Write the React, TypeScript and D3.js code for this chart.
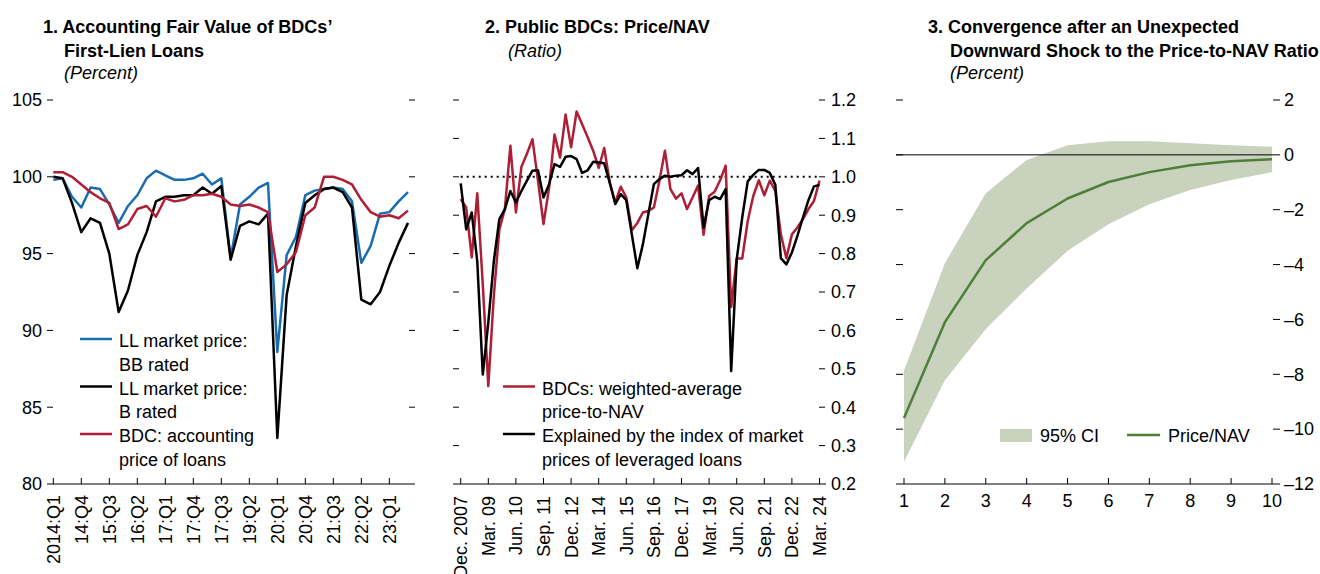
import React from 'react';
import * as d3 from 'd3';

const FONT = "'Liberation Sans Narrow','Arial Narrow','Liberation Sans',Arial,sans-serif";
const BLUE = '#1a6cb0';
const RED = '#ae1f35';
const GREEN = '#4e7f39';
const BAND = '#c8d2bd';

// ---------- Panel 1 data (quarterly, 2014:Q1 - 2023:Q3) ----------
const p1TickLabels = ['2014:Q1', '14:Q4', '15:Q3', '16:Q2', '17:Q1', '17:Q4', '17:Q3', '19:Q2', '20:Q1', '20:Q4', '21:Q3', '22:Q2', '23:Q1'];
const p1TickStep = 3;
const bbRated = [99.8, 99.9, 98.7, 98.0, 99.3, 99.2, 98.2, 97.0, 98.1, 98.8, 99.9, 100.4, 100.1, 99.8, 99.8, 99.9, 100.2, 99.5, 99.9, 94.7, 98.2, 98.7, 99.3, 99.6, 88.6, 94.9, 96.1, 98.8, 99.1, 99.2, 99.3, 99.2, 98.4, 94.4, 95.5, 97.6, 97.7, 98.4, 99.0];
const bRated = [100.0, 99.9, 98.3, 96.4, 97.3, 97.0, 95.0, 91.2, 92.6, 94.9, 96.4, 98.4, 98.7, 98.7, 98.8, 98.8, 99.3, 98.9, 99.4, 94.6, 96.8, 97.1, 96.9, 97.6, 83.0, 92.3, 95.5, 98.3, 98.8, 99.2, 99.3, 99.0, 98.0, 92.0, 91.7, 92.5, 94.2, 95.7, 97.0];
const bdcAccounting = [100.3, 100.3, 100.0, 99.5, 99.0, 98.6, 98.3, 96.6, 96.9, 97.9, 98.1, 97.4, 98.6, 98.4, 98.5, 98.8, 98.8, 98.9, 98.7, 98.2, 98.1, 98.2, 98.0, 97.7, 93.8, 94.3, 95.1, 97.5, 98.0, 100.0, 100.0, 99.8, 99.5, 98.5, 97.7, 97.4, 97.5, 97.3, 97.8];
const p1YTicks = [80, 85, 90, 95, 100, 105];

// ---------- Panel 2 data (quarterly, Dec. 2007 - Mar. 2024) ----------
const p2TickLabels = ['Dec. 2007', 'Mar. 09', 'Jun. 10', 'Sep. 11', 'Dec. 12', 'Mar. 14', 'Jun. 15', 'Sep. 16', 'Dec. 17', 'Mar. 19', 'Jun. 20', 'Sep. 21', 'Dec. 22', 'Mar. 24'];
const p2TickStep = 5;
const bdcPriceNav = [0.942, 0.92, 0.79, 0.957, 0.72, 0.455, 0.69, 0.863, 0.916, 1.081, 0.907, 1.026, 1.06, 1.098, 0.99, 0.877, 0.97, 1.11, 1.05, 1.162, 1.077, 1.17, 1.137, 1.103, 1.068, 1.023, 1.075, 0.985, 0.933, 0.974, 0.946, 0.861, 0.88, 0.907, 0.911, 0.92, 0.99, 1.068, 0.968, 0.943, 0.957, 0.916, 0.946, 0.977, 0.849, 0.95, 0.961, 0.991, 1.029, 0.661, 0.787, 0.787, 0.885, 0.95, 0.991, 0.952, 0.99, 0.963, 0.85, 0.788, 0.85, 0.868, 0.89, 0.916, 0.937, 0.99];
const explainedByLL = [0.983, 0.863, 0.907, 0.78, 0.485, 0.62, 0.78, 0.89, 0.916, 0.963, 0.933, 0.963, 0.99, 1.016, 1.017, 0.946, 0.98, 1.033, 1.026, 1.052, 1.054, 1.046, 1.01, 1.017, 1.039, 1.037, 1.035, 0.985, 0.929, 0.955, 0.939, 0.85, 0.762, 0.824, 0.903, 0.981, 0.994, 1.003, 1.0, 1.003, 1.004, 1.017, 1.007, 1.023, 0.868, 0.939, 0.948, 0.942, 0.968, 0.494, 0.785, 0.894, 0.988, 1.005, 1.018, 1.018, 1.01, 0.979, 0.788, 0.772, 0.803, 0.846, 0.894, 0.939, 0.975, 0.979];
const p2YTicks = [0.2, 0.3, 0.4, 0.5, 0.6, 0.7, 0.8, 0.9, 1.0, 1.1, 1.2];

// ---------- Panel 3 data ----------
const horizon = [1, 2, 3, 4, 5, 6, 7, 8, 9, 10];
const priceNav = [-9.59, -6.1, -3.84, -2.49, -1.59, -0.99, -0.63, -0.38, -0.23, -0.16];
const ciUpper = [-7.86, -3.95, -1.4, -0.19, 0.35, 0.5, 0.5, 0.42, 0.35, 0.3];
const ciLower = [-11.19, -8.22, -6.35, -4.87, -3.5, -2.53, -1.8, -1.28, -0.92, -0.63];
const p3YTicks = [-12, -10, -8, -6, -4, -2, 0, 2];

const FS = 18;
const TOP = 100;
const BOTTOM = 484;
const TICK = 6;

const dashFmt = (v: number) => (v < 0 ? '\u2013' + Math.abs(v) : String(v));

function Title({ x, indent, lines, sub }: { x: number; indent: number; lines: string[]; sub: string }) {
  return (
    <g fontFamily={FONT} fontSize={FS}>
      {lines.map((l, i) => (
        <text key={i} x={i === 0 ? x : x + indent} y={33 + i * 24} fontWeight="bold">
          {l}
        </text>
      ))}
      <text x={x + indent} y={33 + lines.length * 24 - (lines.length === 2 ? 2 : 0)} fontStyle="italic">
        {sub}
      </text>
    </g>
  );
}

function Legend({ x, tx, items }: { x: number; tx: number; items: { color: string; lines: string[]; y: number }[] }) {
  return (
    <g fontFamily={FONT} fontSize={FS}>
      {items.map((it, i) => (
        <g key={i}>
          <line x1={x} x2={x + 32} y1={it.y - 8} y2={it.y - 8} stroke={it.color} strokeWidth={2.5} />
          {it.lines.map((l, j) => (
            <text key={j} x={tx} y={it.y + j * 23.5}>
              {l}
            </text>
          ))}
        </g>
      ))}
    </g>
  );
}

function Panel1() {
  const x = d3.scaleLinear().domain([0, bbRated.length - 1]).range([53.3, 408]);
  const y = d3.scaleLinear().domain([80, 105]).range([BOTTOM, TOP]);
  const line = d3.line<number>().x((_, i) => x(i)).y((d) => y(d));
  const left = 47, right = 415;
  const tickIdx = p1TickLabels.map((_, i) => i * p1TickStep);
  return (
    <g>
      <Title x={43} indent={21} lines={["1. Accounting Fair Value of BDCs\u2019", 'First-Lien Loans']} sub="(Percent)" />
      {p1YTicks.map((t) => (
        <g key={t}>
          {t !== 80 && <line x1={left} x2={left + TICK} y1={y(t)} y2={y(t)} stroke="#000" strokeWidth={1} />}
          {t !== 80 && <line x1={right - TICK} x2={right} y1={y(t)} y2={y(t)} stroke="#000" strokeWidth={1} />}
          <text x={42} y={y(t)} dy="0.35em" textAnchor="end" fontFamily={FONT} fontSize={FS}>
            {t}
          </text>
        </g>
      ))}
      <line x1={left} x2={right} y1={BOTTOM} y2={BOTTOM} stroke="#000" strokeWidth={1} />
      {tickIdx.map((ti, k) => (
        <g key={k}>
          <line x1={x(ti)} x2={x(ti)} y1={BOTTOM} y2={BOTTOM - TICK} stroke="#000" strokeWidth={1} />
          <text transform={`translate(${x(ti)},495) rotate(-90)`} textAnchor="end" dy="0.36em" fontFamily={FONT} fontSize={FS}>
            {p1TickLabels[k]}
          </text>
        </g>
      ))}
      <path d={line(bbRated) || ''} fill="none" stroke={BLUE} strokeWidth={2.5} strokeLinejoin="round" />
      <path d={line(bRated) || ''} fill="none" stroke="#000" strokeWidth={2.5} strokeLinejoin="round" />
      <path d={line(bdcAccounting) || ''} fill="none" stroke={RED} strokeWidth={2.5} strokeLinejoin="round" />
      <Legend
        x={80}
        tx={119}
        items={[
          { color: BLUE, lines: ['LL market price:', 'BB rated'], y: 347 },
          { color: '#000', lines: ['LL market price:', 'B rated'], y: 394.5 },
          { color: RED, lines: ['BDC: accounting', 'price of loans'], y: 442 },
        ]}
      />
    </g>
  );
}

function Panel2() {
  const x = d3.scaleLinear().domain([0, bdcPriceNav.length - 1]).range([460.7, 819.5]);
  const y = d3.scaleLinear().domain([0.2, 1.2]).range([BOTTOM, TOP]);
  const line = d3.line<number>().x((_, i) => x(i)).y((d) => y(d));
  const left = 453, right = 826;
  const fmt = d3.format('.1f');
  const tickIdx = p2TickLabels.map((_, i) => i * p2TickStep);
  return (
    <g>
      <Title x={485} indent={23} lines={['2. Public BDCs: Price/NAV']} sub="(Ratio)" />
      {p2YTicks.map((t) => (
        <g key={t}>
          {t > 0.25 && <line x1={left} x2={left + TICK} y1={y(t)} y2={y(t)} stroke="#000" strokeWidth={1} />}
          {t > 0.25 && <line x1={right - TICK - 1} x2={right - 1} y1={y(t)} y2={y(t)} stroke="#000" strokeWidth={1} />}
          <text x={831} y={y(t)} dy="0.35em" fontFamily={FONT} fontSize={FS}>
            {fmt(t)}
          </text>
        </g>
      ))}
      <line x1={left} x2={right} y1={BOTTOM} y2={BOTTOM} stroke="#000" strokeWidth={1} />
      {tickIdx.map((ti, k) => (
        <g key={k}>
          <line x1={x(ti)} x2={x(ti)} y1={BOTTOM} y2={BOTTOM - TICK} stroke="#000" strokeWidth={1} />
          <text transform={`translate(${x(ti)},496) rotate(-90)`} textAnchor="end" dy="0.36em" fontFamily={FONT} fontSize={FS}>
            {p2TickLabels[k]}
          </text>
        </g>
      ))}
      <line x1={x(0)} x2={x(bdcPriceNav.length - 1)} y1={y(1)} y2={y(1)} stroke="#000" strokeWidth={2} strokeDasharray="2 4" />
      <path d={line(bdcPriceNav) || ''} fill="none" stroke={RED} strokeWidth={2.5} strokeLinejoin="round" />
      <path d={line(explainedByLL) || ''} fill="none" stroke="#000" strokeWidth={2.5} strokeLinejoin="round" />
      <Legend
        x={503}
        tx={542}
        items={[
          { color: RED, lines: ['BDCs: weighted-average', 'price-to-NAV'], y: 394.5 },
          { color: '#000', lines: ['Explained by the index of market', 'prices of leveraged loans'], y: 442 },
        ]}
      />
    </g>
  );
}

function Panel3() {
  const x = d3.scaleLinear().domain([1, 10]).range([904, 1272]);
  const y = d3.scaleLinear().domain([-12, 2]).range([BOTTOM, TOP]);
  const line = d3.line<number>().x((_, i) => x(horizon[i])).y((d) => y(d));
  const area = d3
    .area<number>()
    .x((_, i) => x(horizon[i]))
    .y0((_, i) => y(ciLower[i]))
    .y1((d) => y(d));
  const left = 896, right = 1280;
  return (
    <g>
      <Title x={928} indent={22} lines={['3. Convergence after an Unexpected', 'Downward Shock to the Price-to-NAV Ratio']} sub="(Percent)" />
      <path d={area(ciUpper) || ''} fill={BAND} stroke="none" />
      {p3YTicks.map((t) => (
        <g key={t}>
          {t !== -12 && <line x1={left} x2={left + TICK + 1} y1={y(t)} y2={y(t)} stroke="#000" strokeWidth={1} />}
          <line x1={1273} x2={right} y1={y(t)} y2={y(t)} stroke="#000" strokeWidth={1} />
          <text x={1284} y={y(t)} dy="0.35em" fontFamily={FONT} fontSize={FS}>
            {dashFmt(t)}
          </text>
        </g>
      ))}
      <line x1={left} x2={1273} y1={y(0)} y2={y(0)} stroke="#000" strokeWidth={1} />
      <line x1={left} x2={1273} y1={BOTTOM} y2={BOTTOM} stroke="#000" strokeWidth={1} />
      {horizon.map((h) => (
        <g key={h}>
          <line x1={x(h)} x2={x(h)} y1={BOTTOM} y2={BOTTOM - TICK} stroke="#000" strokeWidth={1} />
          <text x={x(h)} y={507} textAnchor="middle" fontFamily={FONT} fontSize={FS}>
            {h}
          </text>
        </g>
      ))}
      <path d={line(priceNav) || ''} fill="none" stroke={GREEN} strokeWidth={2.5} strokeLinejoin="round" />
      <g fontFamily={FONT} fontSize={FS}>
        <rect x={1000} y={429} width={32} height={13} fill={BAND} />
        <text x={1040} y={442}>95% CI</text>
        <line x1={1127} x2={1160} y1={435} y2={435} stroke={GREEN} strokeWidth={2.5} />
        <text x={1168} y={442}>Price/NAV</text>
      </g>
    </g>
  );
}

export default function App() {
  return (
    <svg
      width={1320}
      height={574}
      style={{ position: 'absolute', left: 0, top: 0, background: '#fff' }}
      xmlns="http://www.w3.org/2000/svg"
    >
      <rect x={0} y={0} width={1320} height={574} fill="#fff" />
      <Panel1 />
      <Panel2 />
      <Panel3 />
    </svg>
  );
}
